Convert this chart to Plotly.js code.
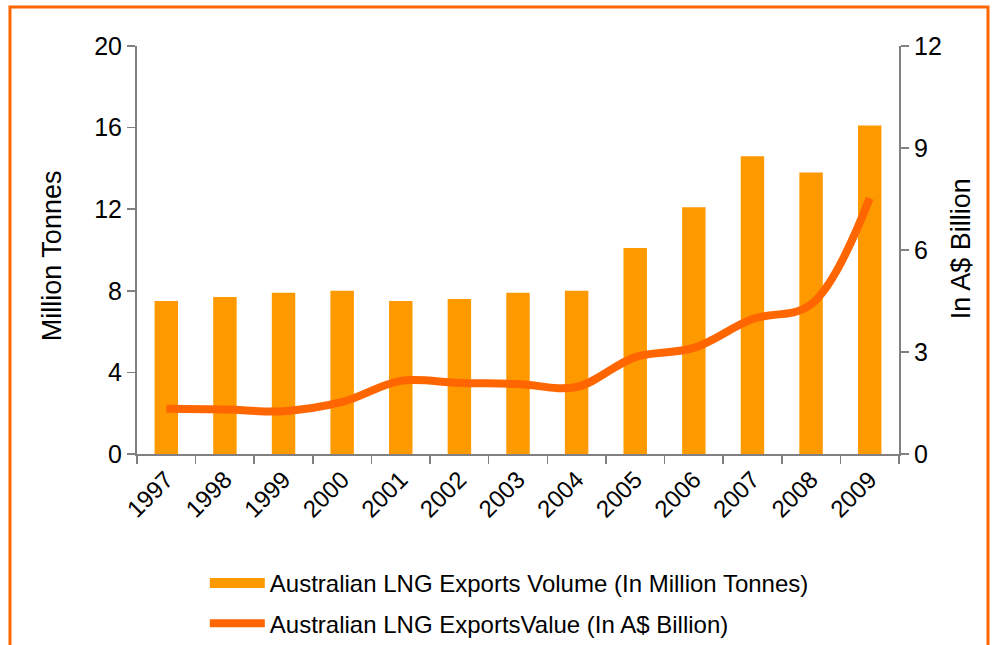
<!DOCTYPE html>
<html><head><meta charset="utf-8">
<script src="https://cdn.plot.ly/plotly-3.0.1.min.js"></script>
<style>body{margin:0;background:#fff}#c{width:992px;height:645px}</style>
</head><body><div id="c"></div>
<script>
const years = ['1997','1998','1999','2000','2001','2002','2003','2004','2005','2006','2007','2008','2009'];
const volume = [7.5,7.7,7.9,8.0,7.5,7.6,7.9,8.0,10.1,12.1,14.6,13.8,16.1];
const value = [1.33,1.31,1.26,1.53,2.15,2.09,2.06,1.97,2.85,3.12,3.97,4.4,7.52];
const volName = 'Australian LNG Exports Volume (In Million Tonnes)';
const valName = 'Australian LNG ExportsValue (In A$ Billion)';
const leftTitle = 'Million Tonnes';
const rightTitle = 'In A$ Billion';
const font = "'Liberation Sans', Arial, sans-serif";
const traces = [
  {type:'bar', x:years, y:volume, name:volName, showlegend:false,
   marker:{color:'#FF9900'}, width:0.4, yaxis:'y'},
  {type:'scatter', mode:'lines', x:years, y:value, name:valName, legendgroup:'b', legendrank:2,
   line:{color:'#FF6600', width:8, shape:'spline', smoothing:1}, yaxis:'y2'},
  {type:'scatter', mode:'lines', x:[null], y:[null], name:volName, legendgroup:'a', legendrank:1,
   line:{color:'#FF9900', width:13}, yaxis:'y', hoverinfo:'skip'}
];
const axisCommon = {showgrid:false, zeroline:false, showline:true, linecolor:'#808080', linewidth:2, automargin:false,
  ticks:'outside', ticklen:8, tickcolor:'#808080', tickwidth:1.5, tickfont:{family:font,size:25,color:'#000'}};
const layout = {
  width:992, height:645, margin:{l:137, r:93, t:46, b:191, autoexpand:false},
  paper_bgcolor:'#fff', plot_bgcolor:'#fff', font:{family:font, color:'#000'},
  bargap:0.6,
  xaxis:Object.assign({}, axisCommon, {type:'category', tickangle:-45, tickson:'boundaries', tickfont:{family:font,size:24,color:'#000'}}),
  yaxis:Object.assign({}, axisCommon, {range:[0,20], tickvals:[0,4,8,12,16,20]}),
  yaxis2:Object.assign({}, axisCommon, {overlaying:'y', side:'right', range:[0,12], tickvals:[0,3,6,9,12]}),
  annotations:[
    {text:leftTitle, xref:'paper', yref:'paper', x:-0.1115, y:0.485, xanchor:'center', yanchor:'middle', textangle:-90, showarrow:false, font:{family:font,size:27,color:'#000'}},
    {text:rightTitle, xref:'paper', yref:'paper', x:1.0814, y:0.502, xanchor:'center', yanchor:'middle', textangle:-90, showarrow:false, font:{family:font,size:27,color:'#000'}}
  ],
  legend:{x:0.089, xanchor:'left', y:-0.262, yanchor:'top', orientation:'v', font:{family:font,size:24,color:'#000'}, itemwidth:55, tracegroupgap:6, traceorder:'grouped', bgcolor:'rgba(0,0,0,0)'},
  showlegend:true,
  shapes:[
    {type:'path', xref:'paper', yref:'paper', path:'M -0.1667 -0.6 L -0.1667 1.0956 L 1.1168 1.0956 L 1.1168 -0.6', line:{color:'#FF6600', width:3}}
  ]
};
Plotly.newPlot('c', traces, layout, {displayModeBar:false, staticPlot:true});
</script></body></html>
